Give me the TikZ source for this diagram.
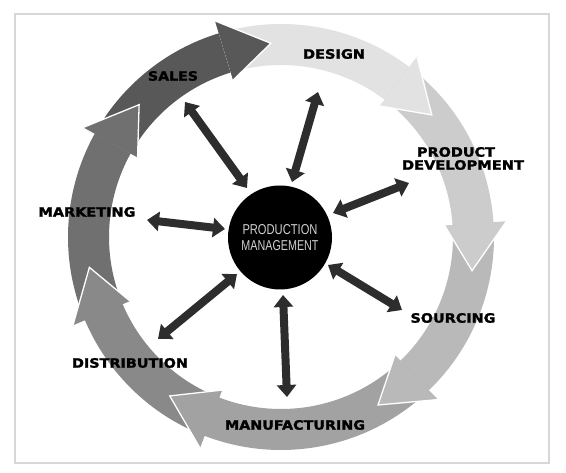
\documentclass[tikz,border=0pt]{standalone}
\usepackage{fontspec}
\usetikzlibrary{calc,arrows.meta}
\newfontfamily\lblfont{DejaVu Sans}[BoldFeatures={FakeBold=1.6}]
\newfontfamily\pmfont{Liberation Sans}
\definecolor{cSales}{RGB}{88,88,88}
\definecolor{cDesign}{RGB}{226,226,226}
\definecolor{cProd}{RGB}{204,204,204}
\definecolor{cSourc}{RGB}{185,185,185}
\definecolor{cManuf}{RGB}{162,162,162}
\definecolor{cDistr}{RGB}{137,137,137}
\definecolor{cMarket}{RGB}{112,112,112}
\definecolor{cDark}{RGB}{45,45,45}
\definecolor{cFrame}{RGB}{215,215,215}
\newcommand\ringbody[3]{%
  \fill[#1] ($(C)+(#2:213)$) arc[start angle=#2, end angle=#3, radius=213]
    -- ($(C)+(#3:172)$) arc[start angle=#3, end angle=#2, radius=172] -- cycle;}
\newcommand\ringhead[3]{%
  \fill[#1] ($(C)+(#2:226)$) -- ($(C)+(#3:194)$) -- ($(C)+(#2:164)$) -- cycle;
  \draw[white, line width=1.3, line join=miter] ($(C)+(#2:226)$) -- ($(C)+(#3:194)$) -- ($(C)+(#2:164)$);}
\newcommand\lbltext[2]{\resizebox{#1pt}{9.5pt}{\lblfont\bfseries #2}}
\newcommand\pmtext[2]{\resizebox{#1pt}{10pt}{\pmfont #2}}
\tikzset{
  lbl/.style={inner sep=0pt, text=black},
  dbl/.style={draw=cDark, line width=8pt,
    {Triangle[length=12pt,width=19pt]}-{Triangle[length=12pt,width=19pt]}},
  pmtxt/.style={inner sep=0pt, text=black!18}
}
\begin{document}
\begin{tikzpicture}[x=1pt,y=1pt]
\useasboundingbox (0,0) rectangle (566,473);
\fill[white] (0,0) rectangle (566,473);
\draw[cFrame, line width=1.2] (15,10) rectangle (549,459);
\coordinate (C) at (281,236);
% ring bodies
\ringbody{cSales}{151}{107}
\ringbody{cDesign}{107}{53}
\ringbody{cProd}{53}{4}
\ringbody{cSourc}{4}{-46}
\ringbody{cManuf}{-46}{-111}
\ringbody{cDistr}{-111}{-157}
\ringbody{cMarket}{-157}{-209}
% ring heads
\ringhead{cDesign}{53}{39}
\ringhead{cProd}{4}{-10}
\ringhead{cSourc}{-46}{-60}
\ringhead{cManuf}{-111}{-125}
\ringhead{cDistr}{-157}{-171}
\ringhead{cMarket}{151}{137}
\ringhead{cSales}{107}{93}
% labels
\node[lbl] (sales) at (173,397) {\lbltext{50}{SALES}};
\node[lbl] (design) at (334,419) {\lbltext{62}{DESIGN}};
\node[lbl] (prod1) at (456,321) {\lbltext{78}{PRODUCT}};
\node[lbl] (prod2) at (463,308) {\lbltext{122}{DEVELOPMENT}};
\node[lbl] (sourc) at (453,155) {\lbltext{85}{SOURCING}};
\node[lbl] (manuf) at (295,48) {\lbltext{140}{MANUFACTURING}};
\node[lbl] (distr) at (130,110) {\lbltext{116}{DISTRIBUTION}};
\node[lbl] (market) at (87,261) {\lbltext{97}{MARKETING}};
% central circle
\node[circle, fill=black, minimum size=104pt, inner sep=0pt] (pm) at (280,235.5) {};
\node[pmtxt] (pmtop) at (280,243) {\pmtext{75}{PRODUCTION}};
\node[pmtxt] (pmbot) at (280,227) {\pmtext{77}{MANAGEMENT}};
% double arrows
\coordinate (a1o) at (185,371); \coordinate (a1i) at (247,285);
\coordinate (a2o) at (318,381); \coordinate (a2i) at (292,291);
\coordinate (a3o) at (409,290); \coordinate (a3i) at (333,260);
\coordinate (a4o) at (402,163); \coordinate (a4i) at (328,208);
\coordinate (a5o) at (287,76);  \coordinate (a5i) at (283,178);
\coordinate (a6o) at (158,134); \coordinate (a6i) at (237,199);
\coordinate (a7o) at (147,253); \coordinate (a7i) at (225,244);
\foreach \k in {1,...,7}{\draw[dbl] (a\k o) -- (a\k i);}
\end{tikzpicture}
\end{document}
